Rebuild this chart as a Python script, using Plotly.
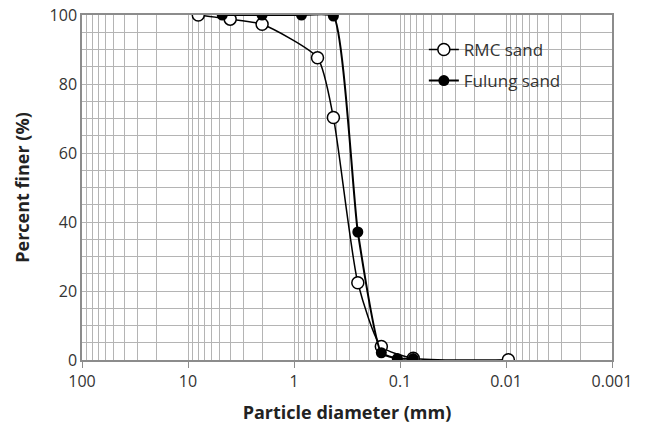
import plotly.graph_objects as go

# sieve analysis
rmc_d = [8.0, 4.0, 2.0, 0.6, 0.425, 0.25, 0.15, 0.075, 0.0095]
rmc_pct = [100, 98.8, 97.3, 87.6, 70.3, 22.4, 3.9, 0.5, 0.1]

fulung_d = [4.75, 2.0, 0.85, 0.425, 0.25, 0.15, 0.106, 0.075]
fulung_pct = [100, 100, 100, 99.7, 37.1, 2.1, 0.4, 0.4]

x_ticks = [100, 10, 1, 0.1, 0.01, 0.001]
x_labels = ["100", "10", "1", "0.1", "0.01", "0.001"]

font = "Open Sans"
grid = "#b4b4b4"
frame = "#8c8c8c"

fig = go.Figure()
fig.add_trace(go.Scatter(
    x=rmc_d, y=rmc_pct, name="RMC sand", legendgroup="rmc",
    mode="lines+markers",
    line=dict(color="black", width=1.5, shape="spline", smoothing=0.6),
    marker=dict(symbol="circle", size=12, color="white",
                line=dict(color="black", width=1.5)),
))
fig.add_trace(go.Scatter(
    x=fulung_d, y=fulung_pct, name="Fulung sand", legendgroup="fulung",
    mode="lines+markers",
    line=dict(color="black", width=2, shape="spline", smoothing=0.45),
    marker=dict(symbol="circle", size=11, color="black"),
))

# white box behind the legend, hiding the grid
fig.add_shape(type="rect", xref="paper", yref="paper",
              x0=0.568, x1=0.987, y0=0.762, y1=0.951,
              fillcolor="white", line_width=0, layer="between")

fig.update_layout(
    width=649, height=429,
    margin=dict(l=82, r=37, t=15, b=69),
    paper_bgcolor="white", plot_bgcolor="white",
    font=dict(family=font, size=16, color="#333333"),
    showlegend=True,
    legend=dict(x=0.645, y=0.951, xanchor="left", yanchor="top",
                bgcolor="rgba(0,0,0,0)", borderwidth=0,
                font=dict(size=17, color="#333333"),
                itemwidth=30, tracegroupgap=6),
    xaxis=dict(
        type="log", range=[2, -3], automargin=False,
        tickvals=x_ticks, ticktext=x_labels,
        showgrid=True, gridcolor=grid, gridwidth=1,
        minor=dict(dtick="D1", showgrid=True, gridcolor=grid, gridwidth=1,
                   ticks=""),
        ticks="outside", ticklen=6, tickcolor=frame,
        showline=True, linecolor=frame, linewidth=1.5, mirror=True,
        zeroline=False,
        title=dict(text="<b>Particle diameter (mm)</b>",
                   font=dict(size=18, color="#222222")),
    ),
    yaxis=dict(
        range=[0, 100], dtick=20, automargin=False,
        showgrid=True, gridcolor=grid, gridwidth=1,
        minor=dict(dtick=5, showgrid=True, gridcolor=grid, gridwidth=1),
        ticks="", showline=True, linecolor=frame, linewidth=1.5, mirror=True,
        zeroline=False,
        title=dict(text="<b>Percent finer (%)</b>",
                   font=dict(size=18, color="#222222")),
    ),
)

# drop the default 8px body margin so the figure sits at the page corner
fig.write_html("out.html", config={"displayModeBar": False},
               post_script="document.body.style.margin='0';")
